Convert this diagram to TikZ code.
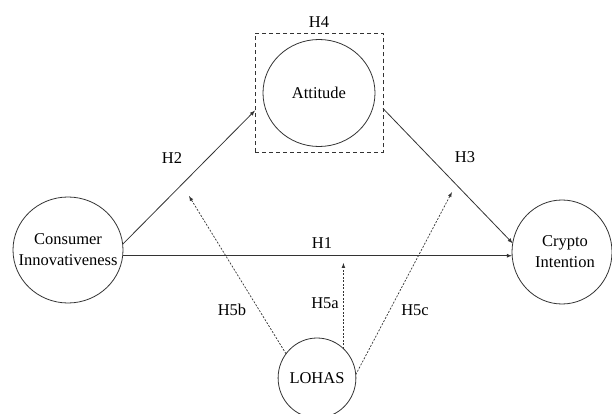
\documentclass[tikz,border=0pt]{standalone}
\usepackage{fontspec}
\setmainfont{Liberation Serif}
\usetikzlibrary{positioning,shapes.geometric}

\begin{document}
\begin{tikzpicture}
[x=1pt,y=-1pt,
 every node/.style={inner sep=0pt,outer sep=0pt,font=\fontsize{16.5}{21}\selectfont},
 lat/.style={ellipse,draw=black!80,line width=0.8pt,align=center},
 hbox/.style={rectangle,draw=black!80,line width=0.8pt,dash pattern=on 4pt off 3pt,minimum width=128pt,minimum height=119pt},
 hyp/.style={},
 path/.style={black!80,line width=0.8pt,-latex},
 mod/.style={black!80,line width=0.7pt,dash pattern=on 2pt off 1.5pt,-latex}]
\useasboundingbox (0,0) rectangle (612,414);

\node[lat,minimum width=112pt,minimum height=107pt] (att) at (319,93) {Attitude};
\node[lat,minimum width=110pt,minimum height=106pt,inner xsep=-12pt] (ci) [on grid,below  left=157pt and 251pt of att] {Consumer\\Innovativeness};
\node[lat,minimum width=100pt,minimum height=104pt] (ci2) [on grid,below right=159pt and 243pt of att] {\hspace*{6pt}Crypto\\\hspace*{6pt}Intention};
\node[lat,minimum width=76pt,minimum height=80pt] (lohas) [on grid,below  left=285pt and 2pt of att] {LOHAS};
\node[hbox] (box) [on grid,below=0pt of att] {};

\node[hyp] (lH4)  [on grid,above=71pt of att] {H4};
\node[hyp] (lH2)  [on grid,above right=92pt and 104pt of ci] {H2};
\node[hyp] (lH3)  [on grid,above  left=95pt and 97pt of ci2] {H3};
\node[hyp] (lH1)  [on grid,above right=135pt and 5pt of lohas] {H1};
\node[hyp] (lH5a) [on grid,above right=75pt and 8pt of lohas] {H5a};
\node[hyp] (lH5b) [on grid,above  left=68pt and 85pt of lohas] {H5b};
\node[hyp] (lH5c) [on grid,above right=68pt and 98pt of lohas] {H5c};

\coordinate (h2end)   at ([yshift=-17.5pt]box.west);
\coordinate (h3start) at ([yshift=-15.5pt]box.east);
\coordinate (h5aend)  at (344,263);
\coordinate (h5bend)  at (189,196);
\coordinate (h5cend)  at (452,192);

\draw[path] (ci.6)   -- (h2end);
\draw[path] (h3start) -- (ci2.170);
\draw[path] (ci.-6)  -- (ci.-6 -| ci2.west);
\draw[mod] (lohas.48)    -- (lohas.48 |- h5aend);
\draw[mod] (lohas.142)   -- (h5bend);
\draw[mod] (lohas.5)     -- (h5cend);
\end{tikzpicture}
\end{document}
